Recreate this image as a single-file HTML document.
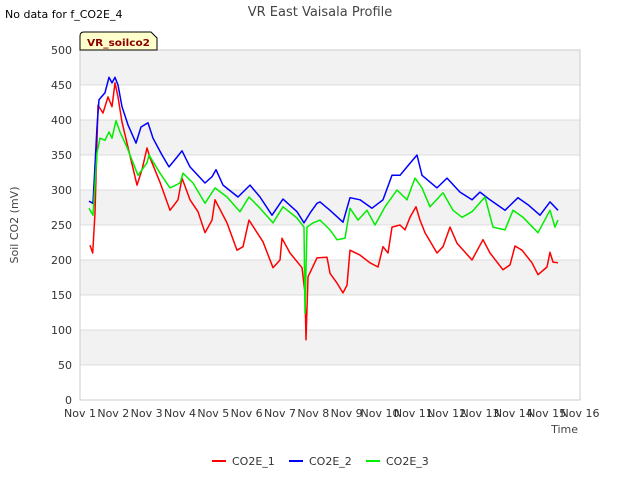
<!DOCTYPE html>
<html><head><meta charset="utf-8"><style>
body{margin:0;background:#fff;font-family:"Liberation Sans","DejaVu Sans",sans-serif}
svg text{font-family:"DejaVu Sans","Liberation Sans",sans-serif}
</style></head><body>
<svg id="chart" width="640" height="480" xmlns="http://www.w3.org/2000/svg">
<text x="5" y="18" font-size="11" fill="#000">No data for f_CO2E_4</text>
<text x="320" y="16" font-size="13" fill="#444" text-anchor="middle">VR East Vaisala Profile</text>
<g id="bands"></g><g id="grid"></g><g id="series"></g><g id="ticks"></g>
<rect x="80" y="50" width="500" height="350" fill="none" stroke="#ccc"/>
<text transform="translate(18,225) rotate(-90)" font-size="11" fill="#444" text-anchor="middle">Soil CO2 (mV)</text>
<text x="578" y="433" font-size="11" fill="#444" text-anchor="end">Time</text>
<g>
<path d="M80,50 L80,36 Q80,32 84,32 L151,32 L157,38 L157,50 Z" fill="#ffffcc" stroke="#000"/>
<text x="87" y="46" font-size="10" font-weight="bold" fill="#8b0000" textLength="63" lengthAdjust="spacingAndGlyphs">VR_soilco2</text>
</g>
<g id="legend"></g>
</svg>
<script>
const xTickLabels=["Nov 1","Nov 2","Nov 3","Nov 4","Nov 5","Nov 6","Nov 7","Nov 8","Nov 9","Nov 10","Nov 11","Nov 12","Nov 13","Nov 14","Nov 15","Nov 16"];
const yTicks=[0,50,100,150,200,250,300,350,400,450,500];
const seriesNames=["CO2E_1","CO2E_2","CO2E_3"];
const seriesColors=["#ff0000","#0000ff","#00ee00"];
const co2e1=[[0.30,221],[0.38,210],[0.45,267],[0.54,421],[0.69,410],[0.84,433],[0.96,419],[1.05,453],[1.14,433],[1.26,397],[1.44,361],[1.71,307],[1.86,329],[2.01,360],[2.10,346],[2.40,311],[2.70,271],[2.94,286],[3.06,317],[3.30,286],[3.54,269],[3.75,239],[3.96,257],[4.05,286],[4.41,253],[4.71,214],[4.89,219],[5.07,257],[5.49,226],[5.79,189],[6.00,200],[6.06,231],[6.30,210],[6.66,189],[6.75,153],[6.78,86],[6.84,176],[7.11,203],[7.41,204],[7.50,181],[7.71,167],[7.89,153],[8.01,164],[8.10,214],[8.40,207],[8.70,196],[8.94,190],[9.09,219],[9.24,210],[9.36,247],[9.60,250],[9.75,243],[9.90,261],[10.08,276],[10.20,257],[10.35,239],[10.71,210],[10.89,219],[11.10,247],[11.31,224],[11.76,200],[12.09,229],[12.30,210],[12.69,186],[12.90,193],[13.05,220],[13.26,214],[13.56,196],[13.74,179],[14.01,190],[14.10,211],[14.19,197],[14.34,196]];
const co2e2=[[0.27,284],[0.39,281],[0.51,390],[0.57,429],[0.75,439],[0.87,461],[0.96,453],[1.05,461],[1.14,450],[1.26,419],[1.44,393],[1.68,367],[1.83,390],[2.04,396],[2.19,374],[2.46,350],[2.67,333],[2.91,347],[3.06,356],[3.30,333],[3.75,310],[3.96,319],[4.08,329],[4.29,307],[4.74,290],[5.10,307],[5.40,290],[5.76,264],[6.09,287],[6.51,269],[6.72,253],[6.90,267],[7.11,281],[7.20,283],[7.50,271],[7.89,254],[8.10,289],[8.40,286],[8.76,274],[9.09,286],[9.36,321],[9.60,321],[9.81,333],[10.11,350],[10.26,321],[10.71,303],[11.01,317],[11.40,297],[11.76,286],[12.00,297],[12.30,286],[12.75,271],[13.14,289],[13.44,279],[13.80,264],[14.10,283],[14.34,271]];
const co2e3=[[0.27,274],[0.39,264],[0.51,353],[0.60,374],[0.75,371],[0.87,383],[0.96,374],[1.08,399],[1.20,383],[1.41,361],[1.59,339],[1.74,321],[2.01,339],[2.07,350],[2.40,324],[2.70,303],[3.00,310],[3.09,324],[3.39,310],[3.75,281],[4.05,303],[4.41,290],[4.80,269],[5.07,290],[5.40,274],[5.79,253],[6.09,276],[6.51,260],[6.72,247],[6.75,124],[6.81,247],[6.99,253],[7.20,257],[7.50,243],[7.71,229],[7.95,231],[8.10,274],[8.34,257],[8.61,271],[8.85,250],[9.15,276],[9.51,300],[9.81,286],[10.05,317],[10.26,303],[10.50,276],[10.89,296],[11.19,271],[11.46,261],[11.76,269],[12.15,290],[12.39,247],[12.75,243],[12.99,271],[13.29,261],[13.74,239],[14.10,271],[14.25,247],[14.34,257]];
const NS="http://www.w3.org/2000/svg";
const X0=80,X1=580,Y0=400,Y1=50;
function xs(d){return X0+(d/15)*(X1-X0);}
function ys(v){return Y0-(v/500)*(Y0-Y1);}
function mk(t,a,p){const e=document.createElementNS(NS,t);for(const k in a)e.setAttribute(k,a[k]);p.appendChild(e);return e;}
const bands=document.getElementById('bands'),grid=document.getElementById('grid'),ticks=document.getElementById('ticks'),ser=document.getElementById('series'),leg=document.getElementById('legend');
for(let i=0;i<yTicks.length-1;i++){
 if(i%2===1){const r=mk('rect',{x:X0,y:ys(yTicks[i+1]),width:X1-X0,height:ys(yTicks[i])-ys(yTicks[i+1]),fill:'#f2f2f2'},bands);
 
 }
}
yTicks.forEach(v=>{
 const l=mk('line',{x1:X0,x2:X1,y1:ys(v),y2:ys(v),stroke:'#dcdcdc'},grid);
 
 
 const t=mk('text',{x:X0-8,y:ys(v)+4,'font-size':11,fill:'#333','text-anchor':'end'},ticks);t.textContent=v;
 
 
});
xTickLabels.forEach((s,i)=>{
 const t=mk('text',{x:xs(i),y:Y0+17,'font-size':11,fill:'#333','text-anchor':'middle'},ticks);t.textContent=s;
 
 
});
[co2e1,co2e2,co2e3].forEach((d,i)=>{
 const p=mk('polyline',{points:d.map(q=>xs(q[0]).toFixed(1)+','+ys(q[1]).toFixed(1)).join(' '),fill:'none',stroke:seriesColors[i],'stroke-width':1.5,'stroke-linejoin':'round'},ser);
 
 
});
const lx=[212,289,366];
seriesNames.forEach((n,i)=>{
 const g=mk('g',{},leg);
 
 
 mk('line',{x1:lx[i],x2:lx[i]+14,y1:461,y2:461,stroke:seriesColors[i],'stroke-width':2},g);
 const t=mk('text',{x:lx[i]+20,y:465,'font-size':11,fill:'#333'},g);t.textContent=n;
});
</script>
</body></html>
